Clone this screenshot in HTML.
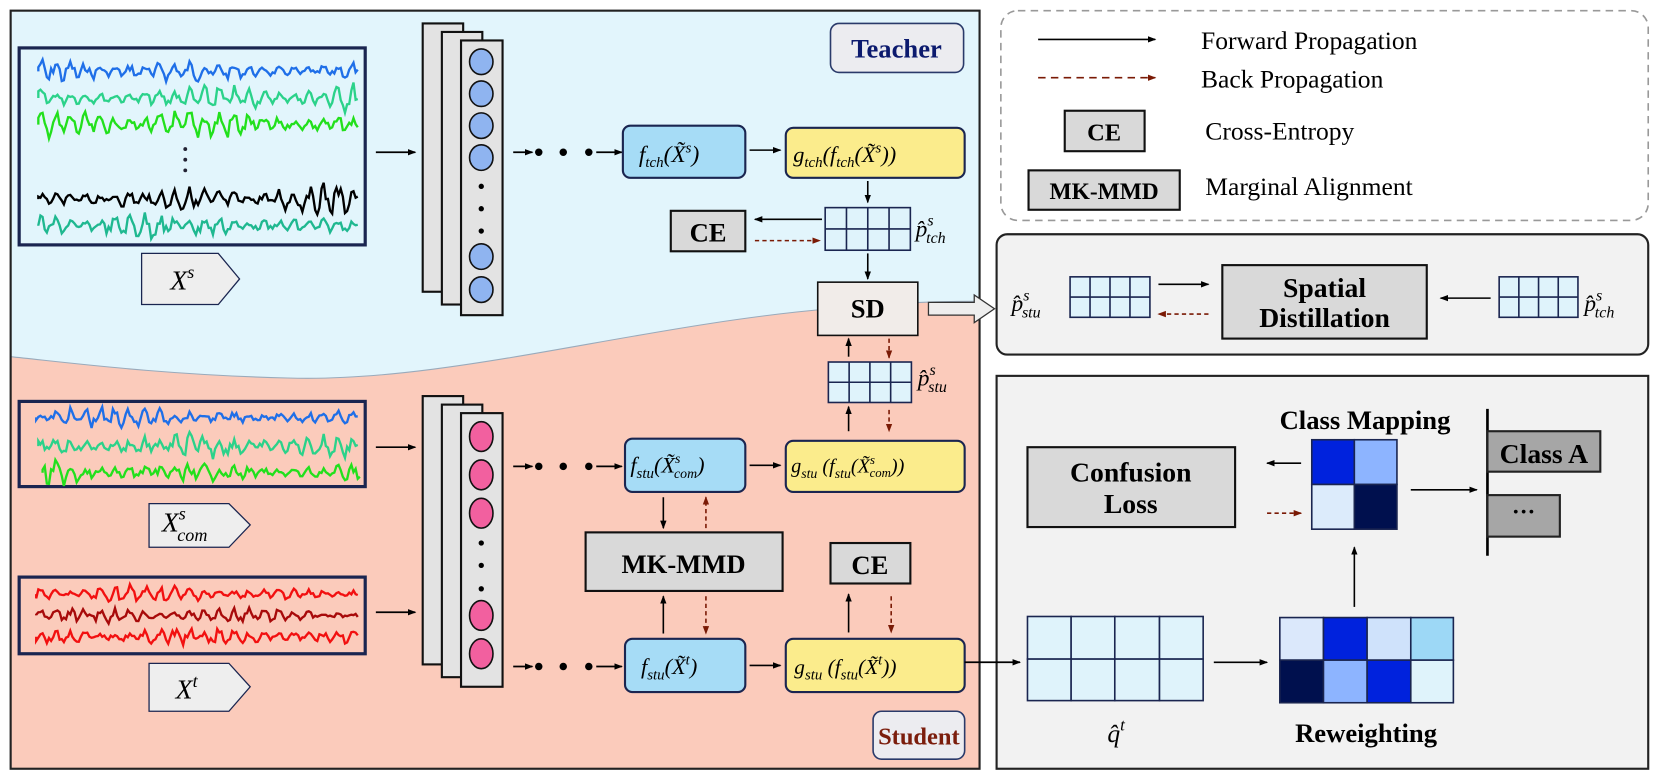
<!DOCTYPE html>
<html><head><meta charset="utf-8"><style>
html,body{margin:0;padding:0;background:#fff;}
svg{display:block;font-family:"Liberation Serif","DejaVu Serif",serif;}
text{font-family:"Liberation Serif","DejaVu Serif",serif;}
.b{font-weight:bold;}
.m{font-style:italic;}
</style></head><body>
<svg id="s" width="1661" height="781" viewBox="0 0 1560 733.5" xmlns="http://www.w3.org/2000/svg" font-family="Liberation Serif, DejaVu Serif, serif">
<defs>
<marker id="ah" markerWidth="8" markerHeight="8" refX="7" refY="4" orient="auto" markerUnits="userSpaceOnUse"><path d="M0,1 L8,4 L0,7 z" fill="#000"/></marker>
<marker id="ar" markerWidth="8" markerHeight="8" refX="7" refY="4" orient="auto" markerUnits="userSpaceOnUse"><path d="M0,1 L8,4 L0,7 z" fill="#7a1a05"/></marker>
</defs>
<rect x="10" y="10" width="910" height="712" fill="#fbcbbb"/>
<path d="M10,10 H920 V283 C860,283 820,286 780,290 C600,305 420,360 270,355 C150,352 60,340 10,335 Z" fill="#e2f5fc"/>
<path d="M10,335 C60,340 150,352 270,355 C420,360 600,305 780,290 C820,286 860,283 920,283" fill="none" stroke="#9ab" stroke-width="1"/>
<rect x="10" y="10" width="910" height="712" fill="none" stroke="#222" stroke-width="2"/>

<rect x="780" y="22" width="125" height="46" rx="8" fill="#ececf0" stroke="#2a3a6a" stroke-width="1.5"/>
<text x="842" y="54" text-anchor="middle" class="b" font-size="25" fill="#0c1a6e">Teacher</text>
<rect x="820" y="668" width="86" height="45" rx="8" fill="#ececf0" stroke="#2a3a6a" stroke-width="1.5"/>
<text x="863" y="699" text-anchor="middle" class="b" font-size="23" fill="#7b1d0c">Student</text>

<rect x="18" y="45" width="325" height="185" fill="#e2f5fc" stroke="#1a2550" stroke-width="3"/>
<rect x="18" y="377" width="325" height="80" fill="#fbcbbb" stroke="#1a2550" stroke-width="3"/>
<rect x="18" y="542" width="325" height="72" fill="#fbcbbb" stroke="#1a2550" stroke-width="3"/>
<g id="sig"></g>
<circle cx="174" cy="140" r="1.8" fill="#223"/><circle cx="174" cy="150" r="1.8" fill="#223"/><circle cx="174" cy="160" r="1.8" fill="#223"/>

<path d="M133,238 H205 L225,262 L205,286 H133 Z" fill="#eeeeee" stroke="#1a2550" stroke-width="1.2"/>
<text x="160" y="272" class="m" font-size="26">X<tspan font-size="17" dy="-11">s</tspan></text>
<path d="M140,473 H215 L235,493 L215,514 H140 Z" fill="#eeeeee" stroke="#1a2550" stroke-width="1.2"/>
<text x="152" y="499" class="m" font-size="26">X<tspan font-size="17" dy="-11">s</tspan><tspan font-size="17" dx="-8" dy="20">com</tspan></text>
<path d="M140,623 H215 L235,645 L215,668 H140 Z" fill="#eeeeee" stroke="#1a2550" stroke-width="1.2"/>
<text x="165" y="656" class="m" font-size="26">X<tspan font-size="17" dy="-11">t</tspan></text>

<line x1="353" y1="143" x2="390" y2="143" stroke="#000" stroke-width="1.6" marker-end="url(#ah)"/>
<line x1="353" y1="420" x2="390" y2="420" stroke="#000" stroke-width="1.6" marker-end="url(#ah)"/>
<line x1="353" y1="575" x2="390" y2="575" stroke="#000" stroke-width="1.6" marker-end="url(#ah)"/>

<rect x="397" y="22" width="38" height="252" fill="#e3e3e3" stroke="#111" stroke-width="2"/>
<rect x="415" y="30" width="38" height="256" fill="#e3e3e3" stroke="#111" stroke-width="2"/>
<rect x="433" y="38" width="39" height="258" fill="#e3e3e3" stroke="#111" stroke-width="2"/>
<g fill="#8fb4f0" stroke="#111" stroke-width="1.5">
<ellipse cx="452" cy="58" rx="11" ry="12"/><ellipse cx="452" cy="88" rx="11" ry="12"/><ellipse cx="452" cy="118" rx="11" ry="12"/><ellipse cx="452" cy="148" rx="11" ry="12"/>
<ellipse cx="452" cy="241" rx="11" ry="12"/><ellipse cx="452" cy="272" rx="11" ry="12"/></g>
<circle cx="452" cy="175" r="2.5"/><circle cx="452" cy="196" r="2.5"/><circle cx="452" cy="217" r="2.5"/>

<rect x="397" y="372" width="38" height="252" fill="#e3e3e3" stroke="#111" stroke-width="2"/>
<rect x="415" y="380" width="38" height="256" fill="#e3e3e3" stroke="#111" stroke-width="2"/>
<rect x="433" y="388" width="39" height="257" fill="#e3e3e3" stroke="#111" stroke-width="2"/>
<g fill="#f2609f" stroke="#111" stroke-width="1.5">
<ellipse cx="452" cy="410" rx="11" ry="14"/><ellipse cx="452" cy="446" rx="11" ry="14"/><ellipse cx="452" cy="482" rx="11" ry="14"/>
<ellipse cx="452" cy="578" rx="11" ry="14"/><ellipse cx="452" cy="614" rx="11" ry="14"/></g>
<circle cx="452" cy="510" r="2.5"/><circle cx="452" cy="531" r="2.5"/><circle cx="452" cy="553" r="2.5"/>

<g stroke="#000" stroke-width="1.6">
<line x1="482" y1="143" x2="500" y2="143" marker-end="url(#ah)"/><line x1="560" y1="143" x2="584" y2="143" marker-end="url(#ah)"/>
<line x1="482" y1="438" x2="500" y2="438" marker-end="url(#ah)"/><line x1="560" y1="438" x2="584" y2="438" marker-end="url(#ah)"/>
<line x1="482" y1="626" x2="500" y2="626" marker-end="url(#ah)"/><line x1="560" y1="626" x2="584" y2="626" marker-end="url(#ah)"/>
</g>
<g fill="#000"><circle cx="506" cy="143" r="3.5"/><circle cx="529" cy="143" r="3.5"/><circle cx="553" cy="143" r="3.5"/>
<circle cx="506" cy="438" r="3.5"/><circle cx="529" cy="438" r="3.5"/><circle cx="553" cy="438" r="3.5"/>
<circle cx="506" cy="626" r="3.5"/><circle cx="529" cy="626" r="3.5"/><circle cx="553" cy="626" r="3.5"/></g>

<g stroke="#1a2550" stroke-width="2">
<rect x="585" y="118" width="115" height="49" rx="7" fill="#a6dcf6"/>
<rect x="738" y="120" width="168" height="47" rx="7" fill="#fbec8c"/>
<rect x="587" y="412" width="113" height="50" rx="7" fill="#a6dcf6"/>
<rect x="738" y="414" width="168" height="48" rx="7" fill="#fbec8c"/>
<rect x="587" y="600" width="113" height="50" rx="7" fill="#a6dcf6"/>
<rect x="738" y="600" width="168" height="50" rx="7" fill="#fbec8c"/>
</g>
<text x="600" y="152" class="m" font-size="22">f<tspan font-size="14" dy="5">tch</tspan><tspan dy="-5">(X̃</tspan><tspan font-size="14" dy="-9">s</tspan><tspan dy="9">)</tspan></text>
<text x="745" y="152" class="m" font-size="21">g<tspan font-size="14" dy="5">tch</tspan><tspan dy="-5">(f</tspan><tspan font-size="14" dy="5">tch</tspan><tspan dy="-5">(X̃</tspan><tspan font-size="14" dy="-9">s</tspan><tspan dy="9">))</tspan></text>
<text x="592" y="444" class="m" font-size="21">f<tspan font-size="14" dy="5">stu</tspan><tspan dy="-5">(X̃</tspan><tspan font-size="13" dy="-9">s</tspan><tspan font-size="13" dx="-6" dy="14">com</tspan><tspan dy="-5">)</tspan></text>
<text x="743" y="444" class="m" font-size="19">g<tspan font-size="13" dy="5">stu</tspan><tspan dy="-5"> (f</tspan><tspan font-size="13" dy="5">stu</tspan><tspan dy="-5">(X̃</tspan><tspan font-size="12" dy="-8">s</tspan><tspan font-size="12" dx="-5" dy="12">com</tspan><tspan dy="-4">))</tspan></text>
<text x="602" y="633" class="m" font-size="21">f<tspan font-size="14" dy="5">stu</tspan><tspan dy="-5">(X̃</tspan><tspan font-size="14" dy="-9">t</tspan><tspan dy="9">)</tspan></text>
<text x="746" y="633" class="m" font-size="20">g<tspan font-size="14" dy="5">stu</tspan><tspan dy="-5"> (f</tspan><tspan font-size="14" dy="5">stu</tspan><tspan dy="-5">(X̃</tspan><tspan font-size="14" dy="-9">t</tspan><tspan dy="9">))</tspan></text>

<g stroke="#000" stroke-width="1.5">
<line x1="704" y1="141" x2="733" y2="141" marker-end="url(#ah)"/>
<line x1="704" y1="437" x2="733" y2="437" marker-end="url(#ah)"/>
<line x1="704" y1="625" x2="733" y2="625" marker-end="url(#ah)"/>
<line x1="815" y1="170" x2="815" y2="190" marker-end="url(#ah)"/>
<line x1="815" y1="238" x2="815" y2="262" marker-end="url(#ah)"/>
<line x1="772" y1="206" x2="709" y2="206" marker-end="url(#ah)"/>
<line x1="797" y1="335" x2="797" y2="318" marker-end="url(#ah)"/>
<line x1="797" y1="405" x2="797" y2="382" marker-end="url(#ah)"/>
<line x1="623" y1="467" x2="623" y2="496" marker-end="url(#ah)"/>
<line x1="623" y1="595" x2="623" y2="560" marker-end="url(#ah)"/>
<line x1="797" y1="594" x2="797" y2="558" marker-end="url(#ah)"/>
</g>
<g stroke="#7a1a05" stroke-width="1.5" stroke-dasharray="4,3">
<line x1="709" y1="226" x2="770" y2="226" marker-end="url(#ar)"/>
<line x1="835" y1="318" x2="835" y2="336" marker-end="url(#ar)"/>
<line x1="835" y1="385" x2="835" y2="405" marker-end="url(#ar)"/>
<line x1="663" y1="496" x2="663" y2="467" marker-end="url(#ar)"/>
<line x1="663" y1="560" x2="663" y2="595" marker-end="url(#ar)"/>
<line x1="837" y1="560" x2="837" y2="594" marker-end="url(#ar)"/>
</g>

<rect x="630" y="198" width="70" height="38" fill="#d9d9d9" stroke="#111" stroke-width="2"/>
<text x="665" y="227" text-anchor="middle" class="b" font-size="25">CE</text>
<rect x="768" y="265" width="94" height="50" fill="#f1ece9" stroke="#111" stroke-width="1.5"/>
<text x="815" y="298" text-anchor="middle" class="b" font-size="25">SD</text>
<path d="M872,284 H915 V277 L934,290 L915,303 V296 H872 Z" fill="#eee" stroke="#333" stroke-width="1.2"/>
<rect x="550" y="500" width="185" height="55" fill="#d9d9d9" stroke="#111" stroke-width="2"/>
<text x="642" y="538" text-anchor="middle" class="b" font-size="25">MK-MMD</text>
<rect x="780" y="510" width="75" height="38" fill="#d9d9d9" stroke="#111" stroke-width="2"/>
<text x="817" y="539" text-anchor="middle" class="b" font-size="25">CE</text>

<text x="860" y="222" class="m" font-size="22">p̂<tspan font-size="15" dy="-10">s</tspan><tspan font-size="15" dx="-7" dy="16">tch</tspan></text>
<text x="862" y="362" class="m" font-size="22">p̂<tspan font-size="15" dy="-10">s</tspan><tspan font-size="15" dx="-7" dy="16">stu</tspan></text>

<rect x="940" y="10" width="608" height="197" rx="16" fill="none" stroke="#999" stroke-width="1.5" stroke-dasharray="7,5"/>
<line x1="975" y1="37" x2="1085" y2="37" stroke="#000" stroke-width="1.5" marker-end="url(#ah)"/>
<text x="1128" y="46" font-size="24">Forward Propagation</text>
<line x1="975" y1="73" x2="1085" y2="73" stroke="#7a1a05" stroke-width="1.5" stroke-dasharray="7,5" marker-end="url(#ar)"/>
<text x="1128" y="82" font-size="24">Back Propagation</text>
<rect x="1000" y="104" width="75" height="38" fill="#d9d9d9" stroke="#111" stroke-width="2"/>
<text x="1037" y="132" text-anchor="middle" class="b" font-size="23">CE</text>
<text x="1132" y="131" font-size="24">Cross-Entropy</text>
<rect x="966" y="160" width="142" height="37" fill="#d9d9d9" stroke="#111" stroke-width="2"/>
<text x="1037" y="187" text-anchor="middle" class="b" font-size="22">MK-MMD</text>
<text x="1132" y="183" font-size="24">Marginal Alignment</text>

<rect x="936" y="220" width="612" height="113" rx="10" fill="#f2f2f2" stroke="#222" stroke-width="2"/>
<text x="950" y="292" class="m" font-size="22">p̂<tspan font-size="15" dy="-10">s</tspan><tspan font-size="15" dx="-7" dy="16">stu</tspan></text>
<line x1="1088" y1="267" x2="1135" y2="267" stroke="#000" stroke-width="1.5" marker-end="url(#ah)"/>
<line x1="1135" y1="295" x2="1088" y2="295" stroke="#7a1a05" stroke-width="1.5" stroke-dasharray="4,3" marker-end="url(#ar)"/>
<rect x="1148" y="249" width="192" height="69" fill="#d9d9d9" stroke="#111" stroke-width="2"/>
<text x="1244" y="279" text-anchor="middle" class="b" font-size="26">Spatial</text>
<text x="1244" y="307" text-anchor="middle" class="b" font-size="26">Distillation</text>
<line x1="1400" y1="280" x2="1353" y2="280" stroke="#000" stroke-width="1.5" marker-end="url(#ah)"/>
<text x="1488" y="292" class="m" font-size="22">p̂<tspan font-size="15" dy="-10">s</tspan><tspan font-size="15" dx="-7" dy="16">tch</tspan></text>

<rect x="936" y="353" width="612" height="369" fill="#f2f2f2" stroke="#222" stroke-width="2"/>
<line x1="906" y1="622" x2="958" y2="622" stroke="#000" stroke-width="1.6" marker-end="url(#ah)"/>
<rect x="965" y="420" width="195" height="75" fill="#d9d9d9" stroke="#111" stroke-width="2"/>
<text x="1062" y="452" text-anchor="middle" class="b" font-size="26">Confusion</text>
<text x="1062" y="482" text-anchor="middle" class="b" font-size="26">Loss</text>
<line x1="1222" y1="435" x2="1190" y2="435" stroke="#000" stroke-width="1.5" marker-end="url(#ah)"/>
<line x1="1190" y1="482" x2="1222" y2="482" stroke="#7a1a05" stroke-width="1.5" stroke-dasharray="4,3" marker-end="url(#ar)"/>
<text x="1282" y="403" text-anchor="middle" class="b" font-size="25">Class Mapping</text>
<g stroke="#1a2550" stroke-width="1.5">
<rect x="1232" y="413" width="40" height="42" fill="#0022dd"/><rect x="1272" y="413" width="40" height="42" fill="#8db4ff"/>
<rect x="1232" y="455" width="40" height="42" fill="#dcebfb"/><rect x="1272" y="455" width="40" height="42" fill="#00104e"/>
</g>
<line x1="1325" y1="460" x2="1387" y2="460" stroke="#000" stroke-width="1.5" marker-end="url(#ah)"/>
<line x1="1397" y1="384" x2="1397" y2="522" stroke="#000" stroke-width="2.5"/>
<rect x="1397" y="405" width="106" height="38" fill="#a6a6a6" stroke="#222" stroke-width="2"/>
<text x="1450" y="435" text-anchor="middle" class="b" font-size="26">Class A</text>
<rect x="1397" y="465" width="68" height="39" fill="#a6a6a6" stroke="#222" stroke-width="2"/>
<text x="1431" y="488" text-anchor="middle" class="b" font-size="22">···</text>
<line x1="1272" y1="570" x2="1272" y2="514" stroke="#000" stroke-width="1.5" marker-end="url(#ah)"/>
<line x1="1140" y1="622" x2="1190" y2="622" stroke="#000" stroke-width="1.5" marker-end="url(#ah)"/>
<g stroke="#1a2550" stroke-width="1.5">
<rect x="965" y="579" width="41" height="40" fill="#dff3fb"/><rect x="1006" y="579" width="41" height="40" fill="#dff3fb"/><rect x="1047" y="579" width="42" height="40" fill="#dff3fb"/><rect x="1089" y="579" width="41" height="40" fill="#dff3fb"/>
<rect x="965" y="619" width="41" height="39" fill="#dff3fb"/><rect x="1006" y="619" width="41" height="39" fill="#dff3fb"/><rect x="1047" y="619" width="42" height="39" fill="#dff3fb"/><rect x="1089" y="619" width="41" height="39" fill="#dff3fb"/>
<rect x="1202" y="580" width="41" height="40" fill="#dbe8fb"/><rect x="1243" y="580" width="41" height="40" fill="#0022dd"/><rect x="1284" y="580" width="41" height="40" fill="#cfe2fb"/><rect x="1325" y="580" width="40" height="40" fill="#9dd8f6"/>
<rect x="1202" y="620" width="41" height="40" fill="#00104e"/><rect x="1243" y="620" width="41" height="40" fill="#8db4ff"/><rect x="1284" y="620" width="41" height="40" fill="#0022dd"/><rect x="1325" y="620" width="40" height="40" fill="#dff3fb"/>
</g>
<text x="1040" y="697" class="m" font-size="24">q̂<tspan font-size="16" dy="-11">t</tspan></text>
<text x="1283" y="697" text-anchor="middle" class="b" font-size="25">Reweighting</text>
<g id="grids"></g>
</svg>
<script>
var NS="http://www.w3.org/2000/svg";
function grid(x,y,w,h){var g=document.getElementById('grids');
 var r=document.createElementNS(NS,'rect');r.setAttribute('x',x);r.setAttribute('y',y);r.setAttribute('width',w);r.setAttribute('height',h);r.setAttribute('fill','#dff3fb');r.setAttribute('stroke','#1a2550');r.setAttribute('stroke-width','1.5');g.appendChild(r);
 var d='';for(var i=1;i<4;i++){d+='M'+(x+w*i/4)+','+y+'V'+(y+h);}d+='M'+x+','+(y+h/2)+'H'+(x+w);
 var p=document.createElementNS(NS,'path');p.setAttribute('d',d);p.setAttribute('stroke','#1a2550');p.setAttribute('stroke-width','1.5');g.appendChild(p);}
grid(775,195,80,40);grid(778,340,78,38);grid(1005,260,75,38);grid(1408,260,74,38);
var seed=7;function rnd(){seed=(seed*9301+49297)%233280;return seed/233280;}
function sig(y,col,amp,x0,x1){var g=document.getElementById('sig');var d='M'+x0+','+y;
 for(var x=x0;x<=x1;x+=2){var env=0.3+0.7*Math.abs(Math.sin(x*0.02+y))*Math.abs(Math.sin(x*0.007+y*0.3));
  var v=(rnd()-0.5)*1.4*amp*env+Math.sin(x*0.45)*amp*0.8*env;d+=' L'+x+','+(y+v).toFixed(1);}
 var p=document.createElementNS(NS,'path');p.setAttribute('d',d);p.setAttribute('fill','none');p.setAttribute('stroke',col);p.setAttribute('stroke-width','2.2');g.appendChild(p);}
sig(67,'#1f6fe8',10,36,336);sig(92,'#2bd28a',11,36,336);sig(117,'#22e01c',11,36,336);sig(187,'#000',11,36,336);sig(212,'#1fb890',10,36,336);
sig(392,'#1f6fe8',9,34,336);sig(419,'#2bd28a',10,36,336);sig(444,'#22e01c',10,40,338);
sig(558,'#f21010',7,34,336);sig(578,'#a80a0a',6,34,336);sig(598,'#f21010',7,34,336);
</script>
</body></html>
